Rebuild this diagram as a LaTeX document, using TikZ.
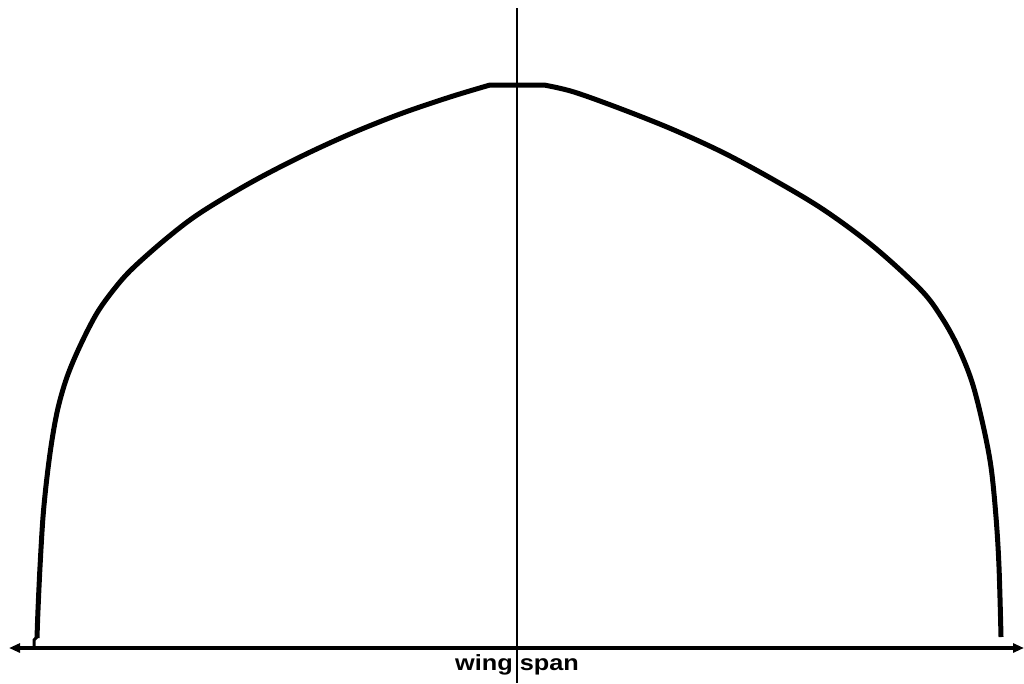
\documentclass[tikz,border=0pt]{standalone}
\usepackage{fontspec}
\setmainfont{Liberation Sans}
\usetikzlibrary{arrows.meta}
\begin{document}
\begin{tikzpicture}[x=1pt,y=-1pt,
  wingcurve/.style={line width=5pt,line join=round,line cap=butt},
  axisline/.style={line width=2.6pt},
  spanarrow/.style={line width=3.2pt,{Triangle[length=11pt,width=9pt]}-{Triangle[length=11pt,width=9pt]}},
  labeltext/.style={font=\bfseries\fontsize{22}{26}\selectfont,inner sep=0pt,anchor=base,xscale=1.15}]
\useasboundingbox (0,0) rectangle (1024,683);
\coordinate (L) at (9,648);
\coordinate (R) at (1024,648);
\coordinate (T) at (517,8);
\coordinate (B) at (517,683);
\coordinate (TL) at (490,85);
\coordinate (TR) at (544,85);
\draw[wingcurve] plot[smooth,tension=0.55] coordinates{(37,638) (38,610) (40,567) (43,517) (47,477) (52,440) (58,408) (67,377) (80,346) (97,313) (115,288) (133,268) (167,238) (200,213) (250,183) (300,157) (350,134) (400,114) (450,97) (490,85)}
  -- (TR)
  plot[smooth,tension=0.55] coordinates{(544,85) (574,92) (624,110) (674,130) (724,153) (774,180) (824,210) (874,247) (921,290) (942,318) (958,347) (972,382) (983,425) (991,467) (996,517) (999,567) (1001,637)};
\draw[line width=3pt] (37,637) -- (34,640) -- (34,648);
\draw[spanarrow] (L) -- (R);
\draw[axisline] (T) -- (B);
\node[labeltext] (lbl) at (517,670) {wing span};
\end{tikzpicture}
\end{document}
